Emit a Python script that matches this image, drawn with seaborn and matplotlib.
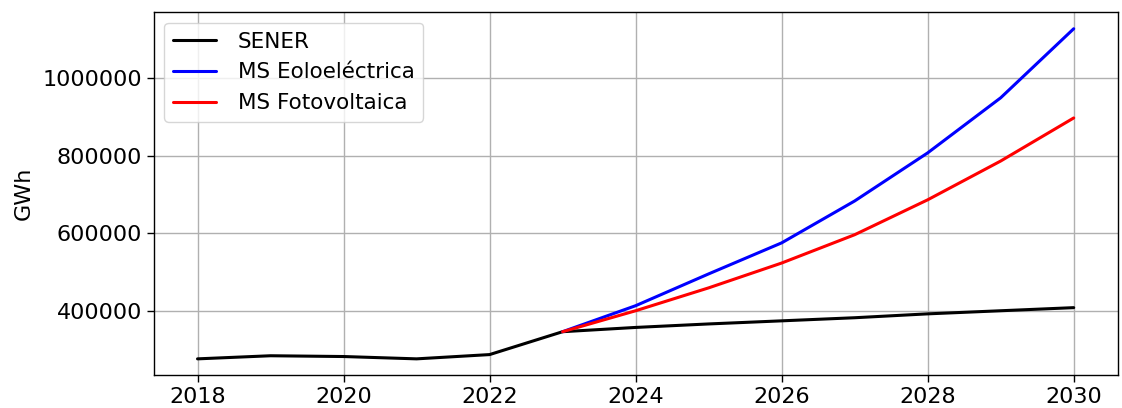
import numpy as np
import pandas as pd
import matplotlib
matplotlib.use("Agg")
import matplotlib.pyplot as plt
import seaborn as sns

# Annual electricity demand (GWh)
years_hist = [2018, 2019, 2020, 2021, 2022, 2023, 2024, 2025, 2026, 2027, 2028, 2029, 2030]
sener = [276000, 284000, 282000, 276000, 287000, 346000, 357000, 366000,
         374000, 382000, 392000, 400000, 408000]

years_proj = [2023, 2024, 2025, 2026, 2027, 2028, 2029, 2030]
ms_eolo = [346000, 413000, 495000, 575000, 683000, 807000, 949000, 1127000]
ms_foto = [346000, 400000, 459000, 523000, 596000, 686000, 786000, 897000]

series_names = ["SENER", "MS Eoloeléctrica", "MS Fotovoltaica"]
series_colors = ["black", "blue", "red"]

df = pd.concat([
    pd.DataFrame({"Año": years_hist, "GWh": sener, "Serie": series_names[0]}),
    pd.DataFrame({"Año": years_proj, "GWh": ms_eolo, "Serie": series_names[1]}),
    pd.DataFrame({"Año": years_proj, "GWh": ms_foto, "Serie": series_names[2]}),
], ignore_index=True)

sns.set_theme(style="ticks", rc={"text.color": "black", "axes.labelcolor": "black",
                                 "xtick.color": "black", "ytick.color": "black"})
plt.rcParams["font.family"] = ["DejaVu Sans"]

fig, ax = plt.subplots(figsize=(11.22, 4.08), dpi=100)
sns.lineplot(data=df, x="Año", y="GWh", hue="Serie", hue_order=series_names,
             palette=dict(zip(series_names, series_colors)), linewidth=2.2, ax=ax)

ax.grid(True, color="#b0b0b0", linewidth=1.0)
ax.set_axisbelow(True)
ax.ticklabel_format(style="plain", axis="y", useOffset=False)
ax.set_xlabel("")
ax.set_ylabel("GWh", fontsize=16, labelpad=6)
ax.tick_params(labelsize=16, length=5, width=1.0)
for s in ax.spines.values():
    s.set_color("black")
    s.set_linewidth(1.0)

ax.legend(loc="upper left", fontsize=15.5, title=None, framealpha=0.8,
          edgecolor="#cccccc", fancybox=True, handlelength=2.0,
          handletextpad=1.0, borderaxespad=0.5, labelspacing=0.5)

fig.subplots_adjust(left=0.137, right=0.996, top=0.97, bottom=0.08)
fig.savefig("out.png", dpi=100)
